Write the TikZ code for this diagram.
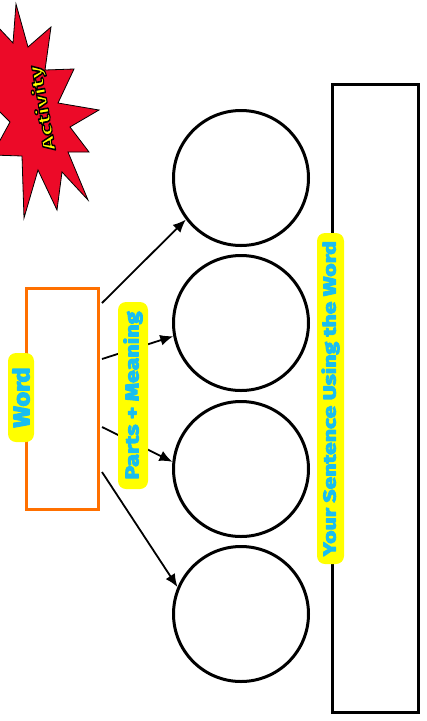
\documentclass[tikz,border=0pt]{standalone}
\usepackage{graphicx}
\usepackage{fontspec}
\setmainfont{Fira Sans}
\usetikzlibrary{arrows.meta,calc}
\definecolor{starred}{RGB}{236,10,40}
\definecolor{lblyellow}{RGB}{255,255,0}
\definecolor{lblcyan}{RGB}{25,190,240}
\definecolor{wordorange}{RGB}{255,112,0}
\newcommand{\outlinedtext}[1]{\special{pdf:literal direct 0 0 0 RG 1.1 w 1 j 2 Tr}#1\special{pdf:literal direct 0 Tr}}
\newcommand{\heavytext}[1]{\special{pdf:literal direct 0.098 0.745 0.941 RG 0.9 w 1 j 2 Tr}#1\special{pdf:literal direct 0 Tr}}
\begin{document}
\begin{tikzpicture}[x=1pt,y=-1pt,
  lbl/.style={fill=lblyellow, rounded corners=8pt, text=lblcyan, font=\bfseries\fontsize{18}{18}\selectfont, rotate=90, inner sep=0pt},
  bubble/.style={circle, draw=black, line width=3pt, minimum size=135pt, inner sep=0pt},
  link/.style={line width=1.8pt, -{Latex[length=13pt,width=11pt]}},
  acttext/.style={rotate=100, font=\bfseries\fontsize{17}{17}\selectfont, inner sep=0pt}
]
\useasboundingbox (0,0) rectangle (427,721);
\clip (0,0) rectangle (427,721);
\fill[white] (0,0) rectangle (427,721);

% starburst
\filldraw[fill=starred, draw=black, line width=0.8pt]
  (16,4) -- (28,47) -- (51,27) -- (45,70) -- (74,69) -- (58,103) -- (99,110)
  -- (70,127) -- (89,152) -- (68,152) -- (88,200) -- (62,172) -- (57,210)
  -- (38,170) -- (24,218) -- (22,156) -- (-8,155) -- (10,122) -- (-30,82)
  -- (-15,45) -- (-20,8) -- (13,43) -- cycle;
\node[acttext, text=lblyellow] (act) at (43,108) {\resizebox{86pt}{14pt}{\outlinedtext{Activity}}};

% boxes
\node[draw=wordorange, line width=3pt, minimum width=72pt, minimum height=221pt, inner sep=0pt] (word) at (62.5,399) {};
\node[draw=black, line width=3pt, minimum width=86pt, minimum height=628pt, inner sep=0pt] (sent) at (375.5,398.5) {};

% circles
\node[bubble] (c1) at (241,178) {};
\node[bubble] (c2) at (241,323) {};
\node[bubble] (c3) at (241,469) {};
\node[bubble] (c4) at (241,614) {};

% arrows
\coordinate (s1) at ($(word.east)+(2,-96)$);
\coordinate (s2) at ($(word.east)+(2,-40)$);
\coordinate (s3) at ($(word.east)+(2,28)$);
\coordinate (s4) at ($(word.east)+(2,73)$);
\draw[link] (s1) -- (c1.217);
\draw[link] (s2) -- (c2.191);
\draw[link] (s3) -- (c3.174);
\draw[link] (s4) -- (c4.157);

% labels
\node[lbl, minimum width=89pt, minimum height=26pt] (wordlbl) at (21,397.5) {\resizebox{60pt}{17pt}{\heavytext{Word}}};
\node[lbl, minimum width=187pt, minimum height=30pt] (partslbl) at (133,395.5) {\resizebox{168pt}{15pt}{\heavytext{Parts + Meaning}}};
\node[lbl, minimum width=331pt, minimum height=27pt] (sentlbl) at (330.5,398.5) {\resizebox{315pt}{14pt}{\heavytext{Your Sentence Using the Word}}};
\end{tikzpicture}
\end{document}
